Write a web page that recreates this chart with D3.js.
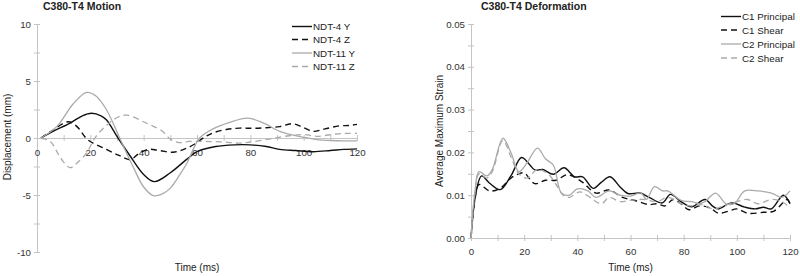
<!DOCTYPE html>
<html>
<head>
<meta charset="utf-8">
<script src="https://cdn.jsdelivr.net/npm/d3@7"></script>
<style>
  body { margin: 0; background: #fff; }
  svg text { font-family: "Liberation Sans", Arial, sans-serif; fill: #222; }
  .title { font-weight: bold; font-size: 10.5px; }
  .axis text { font-size: 9.7px; fill: #333; }
  .axis path, .axis line { stroke: #c4c4c4; }
</style>
</head>
<body>
<div id="chart"></div>
<script>
// ---- Motion chart (left) ----
const motionSeries = ["NDT-4 Y", "NDT-4 Z", "NDT-11 Y", "NDT-11 Z"];
const ndt4Y = [[1.5,0],[6,0.58],[12.4,1.3],[17,1.95],[20.5,2.17],[24,1.95],[26,1.6],[30.4,0],[35,-1.6],[40,-3.2],[44,-3.83],[50,-3.05],[56,-1.9],[60,-1.2],[67,-0.75],[74,-0.6],[80,-0.6],[86,-0.75],[91,-1.0],[97,-1.1],[103.6,-1.2],[110,-1.1],[115,-1.0],[120,-0.95]];
const ndt4Z = [[1.5,0],[6,0.7],[11.7,1.43],[15,1.0],[19,-0.15],[26,-1.0],[31,-1.55],[35,-1.9],[38,-1.4],[41.7,-1.0],[46,-1.1],[51,-1.25],[55,-1.0],[59,-0.55],[63,0.1],[66,0.45],[71,0.75],[76,0.87],[81,0.85],[86,0.9],[91,1.0],[96,1.25],[100,0.9],[103.6,0.58],[108,0.8],[113.6,1.07],[117,1.1],[120,1.2]];
const ndt11Y = [[1.5,0],[7.4,1.0],[13.6,3.0],[18.6,4.0],[22,3.7],[26,2.5],[31,0],[36,-2.5],[40,-4.3],[43.6,-5.05],[47,-4.9],[50,-4.4],[53.6,-3.2],[56,-2.3],[61,0],[66,0.8],[72,1.35],[79,1.75],[85,1.3],[91,0.58],[96,0.25],[100,0.06],[105,-0.15],[110,-0.22],[115,-0.25],[120,-0.25]];
const ndt11Z = [[1.5,0],[5,-0.3],[9,-1.8],[12.4,-2.6],[15,-2.2],[18.6,-1.3],[22,0.1],[27,1.3],[31,1.9],[34,2.0],[41,1.3],[47,0.6],[50,-0.1],[53,-0.4],[57,-0.3],[63,-0.3],[70,-0.35],[76,-0.45],[80,-0.35],[87,-0.1],[93,0.15],[100,0.3],[105,0.15],[112,0.35],[116,0.4],[120,0.4]];

// ---- Deformation chart (right) ----
const strainSeries = ["C1 Principal", "C1 Shear", "C2 Principal", "C2 Shear"];
const c1Principal = [[0,0],[2,0.011],[4,0.0145],[7,0.0128],[11,0.0113],[15,0.0145],[19,0.0188],[22,0.0172],[24,0.0159],[27,0.016],[31,0.0149],[35,0.0164],[39,0.0143],[42,0.0143],[46,0.0116],[49,0.013],[52.3,0.0143],[56,0.012],[59,0.0104],[63.6,0.0105],[67,0.0095],[72,0.0082],[75,0.0102],[79,0.0085],[83,0.0073],[88,0.009],[91,0.0074],[93,0.0068],[98,0.0082],[103,0.0072],[107,0.0068],[110,0.0072],[113,0.0068],[117.5,0.01],[120,0.008]];
const c1Shear = [[0,0],[1.5,0.009],[3,0.0125],[7,0.011],[11,0.0116],[15,0.014],[18,0.015],[20,0.0152],[24,0.0127],[28,0.0135],[32,0.0135],[36,0.0148],[38,0.0145],[42,0.013],[47,0.0105],[52,0.0112],[57,0.0095],[62,0.0087],[67,0.0078],[70,0.008],[73,0.0075],[76,0.009],[79,0.008],[82,0.0066],[86,0.0075],[90,0.007],[93,0.0058],[97,0.0063],[100,0.0068],[104,0.0058],[110,0.006],[114,0.0063],[119,0.009],[120,0.008]];
const c2Principal = [[0,0],[1.5,0.011],[3,0.0155],[6,0.0145],[8,0.016],[12,0.0233],[15,0.02],[18,0.0155],[21,0.0175],[25,0.021],[28,0.0185],[31,0.017],[34,0.0105],[37,0.01],[40,0.0115],[44,0.011],[47,0.0095],[52,0.011],[56,0.01],[60,0.0098],[64,0.0105],[66,0.009],[69,0.012],[72,0.011],[74,0.011],[79,0.0088],[83,0.0085],[86,0.008],[88,0.0085],[92,0.0105],[96,0.008],[99,0.008],[103,0.011],[108,0.011],[113,0.0105],[117,0.0095],[120,0.011]];
const c2Shear = [[0,0],[1.5,0.0105],[3,0.015],[6,0.014],[8,0.0155],[12,0.0228],[15,0.019],[18,0.015],[21,0.014],[25,0.016],[29,0.015],[32,0.0125],[35,0.0098],[37,0.0095],[41,0.0108],[44,0.0098],[49,0.008],[52,0.0095],[56,0.0085],[60,0.0088],[65,0.009],[70,0.0085],[74,0.0095],[79,0.008],[83,0.0075],[87,0.0078],[91,0.0068],[95,0.0075],[100,0.0085],[104,0.009],[108,0.008],[113,0.009],[117,0.0085],[120,0.007]];

const xTicks = [0, 20, 40, 60, 80, 100, 120];
const motionTicks = [-10, -5, 0, 5, 10];
const strainTicks = [0, 0.01, 0.02, 0.03, 0.04, 0.05];

const seriesStyles = [
    {stroke: "#111", dash: null, width: 1.4},
    {stroke: "#111", dash: "6,4", width: 1.4},
    {stroke: "#aaa", dash: null, width: 1.3},
    {stroke: "#aaa", dash: "6,4", width: 1.3}
];

const svg = d3.select("#chart").append("svg")
    .attr("width", 800)
    .attr("height", 276);

function drawChart(cfg) {
    let g = svg.append("g");

    let x = d3.scaleLinear().domain([0, 120]).range([cfg.left, cfg.right]);
    let y = d3.scaleLinear().domain(cfg.yDomain).range([cfg.bottom, cfg.top]);

    // title
    g.append("text")
        .attr("class", "title")
        .attr("x", cfg.titleX)
        .attr("y", 10)
        .text(cfg.title);

    // y axis with minor ticks
    let yAxis = d3.axisLeft(y)
        .tickValues(d3.range(cfg.yDomain[0], cfg.yDomain[1] + cfg.yMinor / 2, cfg.yMinor))
        .tickSizeInner(3).tickSizeOuter(0)
        .tickFormat(d => cfg.yTicks.some(t => Math.abs(t - d) < 1e-9) ? cfg.yFormat(d) : "");
    let yG = g.append("g")
        .attr("class", "axis")
        .attr("transform", `translate(${cfg.left},0)`)
        .call(yAxis);
    yG.selectAll(".tick line").attr("x1", 3);
    yG.selectAll(".tick text").attr("x", -6);

    // x axis (at y = 0)
    let xAxis = d3.axisBottom(x)
        .tickValues(d3.range(0, 121, 10))
        .tickSizeInner(3).tickSizeOuter(0)
        .tickFormat(d => xTicks.includes(d) ? d : "");
    let xG = g.append("g")
        .attr("class", "axis")
        .attr("transform", `translate(0,${y(0)})`)
        .call(xAxis);
    xG.selectAll(".tick line").attr("y1", -3);
    xG.selectAll(".tick text").attr("y", cfg.xLabelOffset).attr("dy", "0");

    // axis titles
    g.append("text")
        .attr("x", (cfg.left + cfg.right) / 2)
        .attr("y", 271)
        .attr("text-anchor", "middle")
        .style("font-size", "10px")
        .text("Time (ms)");

    g.append("text")
        .attr("transform", `translate(${cfg.yLabelX},${cfg.yLabelY}) rotate(-90)`)
        .attr("text-anchor", "middle")
        .style("font-size", "10px")
        .text(cfg.yLabel);

    let line = d3.line()
        .x(d => x(d[0]))
        .y(d => y(d[1]))
        .curve(d3.curveCatmullRom.alpha(0.5));

    cfg.data.forEach((s, i) => {
        let st = seriesStyles[i];
        g.append("path")
            .datum(s)
            .attr("fill", "none")
            .attr("stroke", st.stroke)
            .attr("stroke-width", st.width)
            .attr("stroke-dasharray", st.dash)
            .attr("d", line);
    });

    // legend
    let leg = g.append("g");
    cfg.names.forEach((name, i) => {
        let st = seriesStyles[i];
        let ly = cfg.legendY[i];
        leg.append("line")
            .attr("x1", cfg.legendX).attr("x2", cfg.legendX + 20)
            .attr("y1", ly).attr("y2", ly)
            .attr("stroke", st.stroke)
            .attr("stroke-width", st.width)
            .attr("stroke-dasharray", st.dash);
        leg.append("text")
            .attr("x", cfg.legendX + 21)
            .attr("y", ly + 3.5)
            .style("font-size", "9.8px")
            .text(name);
    });
}

drawChart({
    title: "C380-T4 Motion",
    titleX: 43,
    left: 37, right: 357, top: 24, bottom: 252,
    yDomain: [-10, 10], yMinor: 2.5, yTicks: motionTicks,
    yFormat: d => d,
    xLabelOffset: 18,
    yLabel: "Displacement (mm)",
    yLabelX: 11, yLabelY: 137,
    data: [ndt4Y, ndt4Z, ndt11Y, ndt11Z],
    names: motionSeries,
    legendX: 292,
    legendY: [26.5, 39.5, 53, 66.5]
});

drawChart({
    title: "C380-T4 Deformation",
    titleX: 481,
    left: 471, right: 790, top: 24, bottom: 238,
    yDomain: [0, 0.05], yMinor: 0.005, yTicks: strainTicks,
    yFormat: d3.format(".2f"),
    xLabelOffset: 17,
    yLabel: "Average Maximum Strain",
    yLabelX: 443, yLabelY: 131,
    data: [c1Principal, c1Shear, c2Principal, c2Shear],
    names: strainSeries,
    legendX: 721,
    legendY: [16.5, 30, 44, 58]
});
</script>
</body>
</html>
